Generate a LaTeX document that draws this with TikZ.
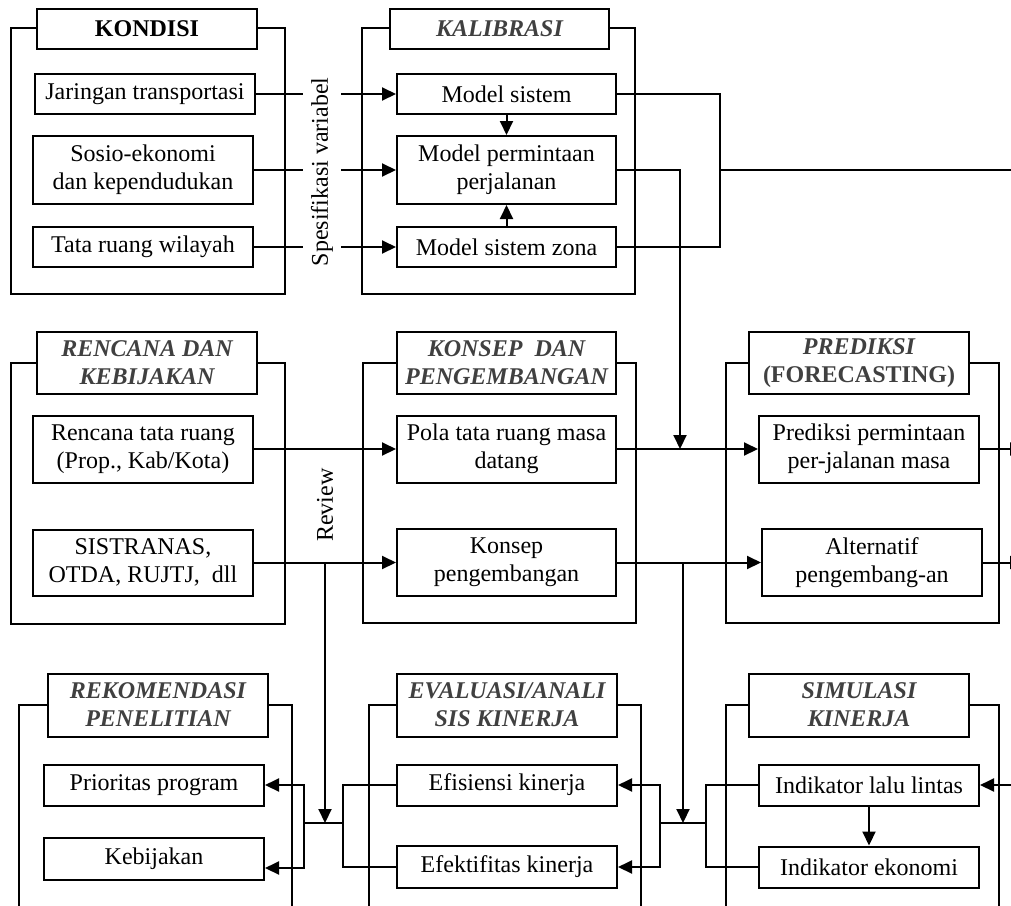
\documentclass[tikz,border=0pt]{standalone}
\usepackage{fontspec}
\setmainfont{Liberation Serif}
\usetikzlibrary{arrows.meta}
\definecolor{ttlgray}{HTML}{404040}
\begin{document}
\begin{tikzpicture}[x=1pt,y=-1pt,
  every node/.style={font=\fontsize{24}{28}\selectfont},
  box/.style={draw, fill=white, line width=2pt, align=center, inner sep=0pt},
  ttl/.style={box, font=\fontsize{24}{28}\selectfont\bfseries\itshape, text=ttlgray},
  frm/.style={draw, line width=2pt},
  con/.style={line width=2pt},
  arr/.style={con, -{Triangle[length=14pt,width=13pt]}},
]
\clip (0,0) rectangle (1011,905);
\fill[white] (0,0) rectangle (1011,905);

% ---------- frames ----------
\draw[frm] (11,28) rectangle (285,294);
\draw[frm] (362,28) rectangle (635,294);
\draw[frm] (11,363) rectangle (285,624);
\draw[frm] (363,363) rectangle (636,623);
\draw[frm] (726,363) rectangle (999,623);
\draw[frm] (19,705) rectangle (292,930);
\draw[frm] (369,705) rectangle (641,930);
\draw[frm] (726,705) rectangle (999,930);

% ---------- titles ----------
\node[box, minimum width=220pt, minimum height=40pt, font=\fontsize{24}{28}\selectfont\bfseries] (t1) at (147,29) {KONDISI};
\node[ttl, minimum width=219pt, minimum height=40pt] (t2) at (499.5,29) {KALIBRASI};
\node[ttl, minimum width=220pt, minimum height=62pt] (t3) at (147,363) {RENCANA DAN\\KEBIJAKAN};
\node[ttl, minimum width=219pt, minimum height=62pt] (t4) at (506.5,363) {KONSEP\ \ DAN\\PENGEMBANGAN};
\node[ttl, minimum width=220pt, minimum height=62pt] (t5) at (859,363) {PREDIKSI\\{\upshape(FORECASTING)}};
\node[ttl, minimum width=220pt, minimum height=63pt] (t6) at (158,705) {REKOMENDASI\\PENELITIAN};
\node[ttl, minimum width=220pt, minimum height=63pt] (t7) at (507,705) {EVALUASI/ANALI\\SIS KINERJA};
\node[ttl, minimum width=220pt, minimum height=63pt] (t8) at (859,705) {SIMULASI\\KINERJA};

% ---------- row 1 boxes ----------
\node[box, minimum width=220pt, minimum height=40pt] (jar) at (145,94) {Jaringan transportasi};
\node[box, minimum width=220pt, minimum height=68pt] (sos) at (143,170) {Sosio-ekonomi\\dan kependudukan};
\node[box, minimum width=220pt, minimum height=40pt] (tata) at (143,247) {Tata ruang wilayah};
\node[box, minimum width=219pt, minimum height=40pt] (msis) at (506.5,94) {Model sistem};
\node[box, minimum width=219pt, minimum height=68pt] (mper) at (506.5,170) {Model permintaan\\perjalanan};
\node[box, minimum width=219pt, minimum height=40pt] (mzon) at (506.5,247) {Model sistem zona};

% ---------- row 2 boxes ----------
\node[box, minimum width=220pt, minimum height=67pt] (renc) at (143,449) {Rencana tata ruang\\(Prop., Kab/Kota)};
\node[box, minimum width=220pt, minimum height=66pt] (sist) at (143,562.5) {SISTRANAS,\\OTDA, RUJTJ,\ \ dll};
\node[box, minimum width=219pt, minimum height=67pt] (pola) at (506.5,449) {Pola tata ruang masa\\datang};
\node[box, minimum width=219pt, minimum height=67pt] (kons) at (506.5,562.5) {Konsep\\pengembangan};
\node[box, minimum width=220pt, minimum height=67pt] (pred) at (869,449) {Prediksi permintaan\\per-jalanan masa};
\node[box, minimum width=220pt, minimum height=67pt] (alt) at (872,562.5) {Alternatif\\pengembang-an};

% ---------- row 3 boxes ----------
\node[box, minimum width=220pt, minimum height=41pt] (prio) at (154,785) {Prioritas program};
\node[box, minimum width=220pt, minimum height=42pt] (kebi) at (154,859) {Kebijakan};
\node[box, minimum width=220pt, minimum height=41pt] (efis) at (507,785) {Efisiensi kinerja};
\node[box, minimum width=220pt, minimum height=42pt] (efek) at (507,867) {Efektifitas kinerja};
\node[box, minimum width=220pt, minimum height=41pt] (ilal) at (869,785) {Indikator lalu lintas};
\node[box, minimum width=220pt, minimum height=41pt] (ieko) at (869,867) {Indikator ekonomi};

% ---------- coordinates ----------
\coordinate (j1) at (720,170);
\coordinate (outR) at (1011,170);
\coordinate (j2) at (680,449);
\coordinate (outP) at (1024,449);
\coordinate (outA) at (1024,562.5);
\coordinate (r1) at (325,562.5);
\coordinate (j3) at (325,823);
\coordinate (r2) at (683,562.5);
\coordinate (j4) at (683,823);
\coordinate (a1) at (304,823);
\coordinate (a2) at (343,823);
\coordinate (b1) at (660,823);
\coordinate (b2) at (706,823);
\coordinate (inS) at (1022,785);

% ---------- connectors row 1 ----------
\draw[arr] (jar.east) -- (msis.west);
\draw[arr] (sos.east) -- (mper.west);
\draw[arr] (tata.east) -- (mzon.west);
\draw[arr] (msis) -- (mper);
\draw[arr] (mzon) -- (mper);
\draw[con] (msis.east) -| (j1) |- (mzon.east);
\draw[con] (j1) -- (outR);
\draw[arr] (mper.east) -| (j2);

% ---------- connectors row 2 ----------
\draw[arr] (renc.east) -- (pola.west);
\draw[arr] (pola.east) -- (pred.west);
\draw[arr] (sist.east) -- (kons.west);
\draw[arr] (kons.east) -- (alt.west);
\draw[arr] (pred.east) -- (outP);
\draw[arr] (alt.east) -- (outA);
\draw[arr] (r1) -- (j3);
\draw[arr] (r2) -- (j4);

% ---------- connectors row 3 ----------
\draw[con] (a1) -- (a2);
\draw[arr] (a1) |- (prio.east);
\draw[arr] (a1) |- ([yshift=-9pt]kebi.east);
\draw[con] (a2) |- (efis.west);
\draw[con] (a2) |- (efek.west);
\draw[con] (b1) -- (b2);
\draw[arr] (b1) |- (efis.east);
\draw[arr] (b1) |- (efek.east);
\draw[con] (b2) |- (ilal.west);
\draw[con] (b2) |- (ieko.west);
\draw[arr] (inS) -- (ilal.east);
\draw[arr] (ilal) -- (ieko);

% ---------- rotated labels ----------
\node[rotate=90, fill=white, inner xsep=2pt, inner ysep=8pt] (spek) at (322,172) {Spesifikasi variabel};
\node[rotate=90] (rev) at (325,505) {Review};
\end{tikzpicture}
\end{document}
